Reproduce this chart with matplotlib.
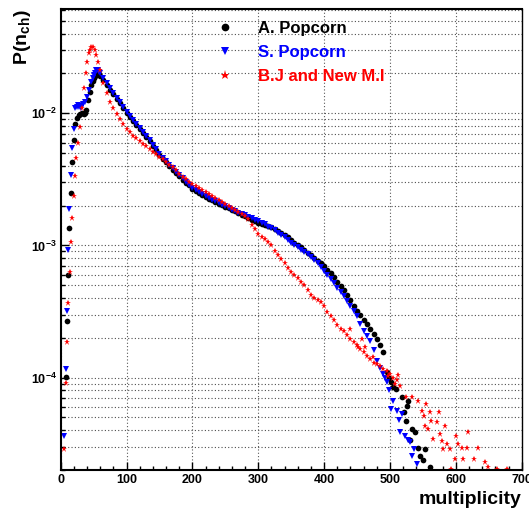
import matplotlib
matplotlib.use('Agg')
import matplotlib.pyplot as plt
from matplotlib.ticker import MultipleLocator, LogLocator, NullFormatter

plt.rcParams['font.family'] = ['Liberation Sans', 'DejaVu Sans']
plt.rcParams['font.weight'] = 'bold'
plt.rcParams['axes.labelweight'] = 'bold'
plt.rcParams['mathtext.fontset'] = 'custom'
plt.rcParams['mathtext.rm'] = 'Liberation Sans:bold'
plt.rcParams['mathtext.bf'] = 'Liberation Sans:bold'
plt.rcParams['mathtext.it'] = 'Liberation Sans:bold'

# bin centres of the smooth part (multiplicity)
mid_x = list(range(60, 495, 5))
red_mid_x = list(range(60, 520, 5))

# A. Popcorn (black)
a_left_x = [7.6, 9.4, 11.1, 12.9, 15.2, 17.8, 19.8, 22.3, 25, 27.4, 30, 32.4, 35.4, 37, 39,
            41.5, 44, 46.7, 48.5, 50.6, 52.5, 54.3, 56.2, 58]
a_left_y = [1.01e-4, 2.67e-4, 5.98e-4, 1.35e-3, 2.51e-3, 4.27e-3, 6.32e-3, 8.26e-3, 9.2e-3,
            9.66e-3, 9.9e-3, 1.005e-2, 9.83e-3, 1.0e-2, 1.05e-2, 1.25e-2, 1.45e-2, 1.63e-2,
            1.75e-2, 1.84e-2, 1.91e-2, 1.97e-2, 2.03e-2, 1.99e-2]
a_mid_y = [1.92e-2, 1.77e-2, 1.63e-2, 1.51e-2, 1.39e-2, 1.285e-2, 1.19e-2, 1.09e-2, 1.01e-2,
           9.31e-3, 8.71e-3, 8.13e-3, 7.59e-3, 7.06e-3, 6.59e-3, 6.17e-3, 5.69e-3, 5.25e-3,
           4.84e-3, 4.54e-3, 4.27e-3, 4.00e-3, 3.74e-3, 3.51e-3, 3.33e-3, 3.15e-3, 2.99e-3,
           2.84e-3, 2.69e-3, 2.59e-3, 2.51e-3, 2.42e-3, 2.33e-3, 2.25e-3, 2.19e-3, 2.13e-3,
           2.07e-3, 2.01e-3, 1.96e-3, 1.91e-3, 1.86e-3, 1.81e-3, 1.77e-3, 1.71e-3, 1.67e-3,
           1.62e-3, 1.57e-3, 1.53e-3, 1.49e-3, 1.46e-3, 1.43e-3, 1.41e-3, 1.37e-3, 1.32e-3,
           1.28e-3, 1.24e-3, 1.19e-3, 1.15e-3, 1.09e-3, 1.04e-3, 1.00e-3, 9.66e-4, 9.27e-4,
           8.83e-4, 8.41e-4, 8.02e-4, 7.66e-4, 7.30e-4, 6.93e-4, 6.56e-4, 6.19e-4, 5.81e-4,
           5.33e-4, 4.91e-4, 4.57e-4, 4.24e-4, 3.85e-4, 3.50e-4, 3.19e-4, 2.96e-4, 2.74e-4,
           2.54e-4, 2.32e-4, 2.13e-4, 1.97e-4, 1.77e-4, 1.56e-4]
a_tail_x = [495, 498, 501, 505, 509, 519, 522, 524, 526, 528, 531, 533, 538, 543, 546, 550,
            553, 561]
a_tail_y = [1.10e-4, 1.00e-4, 9.2e-5, 8.5e-5, 8.2e-5, 7.1e-5, 5.5e-5, 4.7e-5, 6.1e-5, 6.7e-5,
            3.4e-5, 4.1e-5, 3.85e-5, 2.96e-5, 2.56e-5, 2.39e-5, 2.88e-5, 2.09e-5]

# S. Popcorn (blue)
s_left_x = [5.6, 7.6, 9.6, 11.4, 13.2, 15.2, 17.5, 19.8, 22.3, 24.3, 26.3, 28.3, 30.4, 32.3,
            34.2, 37.5, 40, 43, 46.7, 48.6, 50.6, 52.5, 54.3, 56.2, 58]
s_left_y = [3.59e-5, 1.16e-4, 3.20e-4, 9.25e-4, 1.89e-3, 3.42e-3, 5.43e-3, 7.57e-3, 1.10e-2,
            1.12e-2, 1.15e-2, 1.12e-2, 1.09e-2, 1.13e-2, 1.17e-2, 1.22e-2, 1.33e-2, 1.49e-2,
            1.73e-2, 1.84e-2, 1.94e-2, 2.03e-2, 2.12e-2, 2.12e-2, 2.06e-2]
s_mid_y = [2.02e-2, 1.85e-2, 1.69e-2, 1.55e-2, 1.43e-2, 1.31e-2, 1.21e-2, 1.12e-2, 1.03e-2,
           9.49e-3, 8.85e-3, 8.24e-3, 7.69e-3, 7.18e-3, 6.70e-3, 6.27e-3, 5.79e-3, 5.35e-3,
           4.93e-3, 4.62e-3, 4.34e-3, 4.06e-3, 3.82e-3, 3.60e-3, 3.39e-3, 3.21e-3, 3.03e-3,
           2.86e-3, 2.71e-3, 2.62e-3, 2.54e-3, 2.45e-3, 2.37e-3, 2.29e-3, 2.22e-3, 2.15e-3,
           2.09e-3, 2.03e-3, 1.97e-3, 1.91e-3, 1.86e-3, 1.82e-3, 1.77e-3, 1.73e-3, 1.69e-3,
           1.65e-3, 1.61e-3, 1.57e-3, 1.52e-3, 1.48e-3, 1.44e-3, 1.39e-3, 1.35e-3, 1.30e-3,
           1.25e-3, 1.20e-3, 1.15e-3, 1.09e-3, 1.04e-3, 1.00e-3, 9.66e-4, 9.31e-4, 8.95e-4,
           8.61e-4, 8.24e-4, 7.78e-4, 7.35e-4, 6.90e-4, 6.46e-4, 6.00e-4, 5.57e-4, 5.18e-4,
           4.80e-4, 4.45e-4, 4.11e-4, 3.77e-4, 3.46e-4, 3.18e-4, 2.90e-4, 2.55e-4, 2.25e-4,
           2.07e-4, 1.88e-4, 1.62e-4, 1.34e-4, 1.19e-4, 1.06e-4]
s_tail_x = [492, 495, 498, 502, 505, 510, 513, 515, 518, 523, 527, 530, 534, 536, 541]
s_tail_y = [1.0e-4, 9.2e-5, 8.0e-5, 5.8e-5, 6.7e-5, 5.6e-5, 4.8e-5, 3.85e-5, 5.3e-5, 3.64e-5,
            3.4e-5, 3.24e-5, 2.56e-5, 2.88e-5, 2.22e-5]

# B.J and New M.I (red)
b_left_x = [5.6, 7.6, 9.9, 11.4, 13.7, 15.7, 17.8, 19.8, 22.3, 23.9, 26.3, 28.9, 31.9, 35, 38,
            40, 43, 44.8, 46.7, 49.1, 51.7, 54.3, 56.7]
b_left_y = [2.87e-5, 9.08e-5, 1.87e-4, 3.68e-4, 6.30e-4, 1.06e-3, 1.62e-3, 2.35e-3, 3.33e-3,
            4.58e-3, 5.96e-3, 7.87e-3, 1.09e-2, 1.54e-2, 2.00e-2, 2.45e-2, 2.83e-2, 3.00e-2,
            3.15e-2, 3.18e-2, 3.00e-2, 2.75e-2, 2.45e-2]
b_mid_y = [2.14e-2, 1.70e-2, 1.41e-2, 1.22e-2, 1.10e-2, 9.89e-3, 9.02e-3, 8.22e-3, 7.59e-3,
           7.16e-3, 6.76e-3, 6.46e-3, 6.17e-3, 5.89e-3, 5.62e-3, 5.37e-3, 5.13e-3, 4.90e-3,
           4.68e-3, 4.47e-3, 4.27e-3, 4.07e-3, 3.89e-3, 3.72e-3, 3.47e-3, 3.31e-3, 3.16e-3,
           3.02e-3, 2.92e-3, 2.82e-3, 2.72e-3, 2.63e-3, 2.54e-3, 2.45e-3, 2.37e-3, 2.29e-3,
           2.21e-3, 2.14e-3, 2.07e-3, 2.00e-3, 1.93e-3, 1.86e-3, 1.78e-3, 1.72e-3, 1.66e-3,
           1.58e-3, 1.43e-3, 1.32e-3, 1.23e-3, 1.16e-3, 1.11e-3, 1.06e-3, 1.00e-3, 9.12e-4,
           8.51e-4, 7.94e-4, 7.33e-4, 6.76e-4, 6.31e-4, 5.96e-4, 5.62e-4, 5.31e-4, 5.01e-4,
           4.57e-4, 4.22e-4, 3.98e-4, 3.85e-4, 3.72e-4, 3.51e-4, 3.16e-4, 2.95e-4, 2.72e-4,
           2.51e-4, 2.32e-4, 2.26e-4, 2.11e-4, 1.95e-4, 1.86e-4, 1.78e-4, 1.64e-4, 1.55e-4,
           1.46e-4, 1.38e-4, 1.29e-4, 1.26e-4, 1.22e-4, 1.17e-4, 1.12e-4, 1.07e-4, 1.00e-4,
           9.55e-5, 8.71e-5]
b_tail_x = [439, 452, 457, 462, 474, 497, 507, 512, 525, 533, 543, 548, 551, 553, 555, 558,
            561, 563, 565, 571, 574, 576, 579, 580, 584, 586, 591, 593, 599, 601, 604, 609,
            611, 617, 619, 627, 634, 644, 649, 662, 677]
b_tail_y = [2.34e-4, 1.70e-4, 1.96e-4, 1.70e-4, 1.43e-4, 1.02e-4, 9.0e-5, 1.05e-4, 7.1e-5,
            7.1e-5, 6.7e-5, 5.62e-5, 5.15e-5, 4.32e-5, 6.32e-5, 4.08e-5, 5.46e-5, 4.72e-5,
            3.44e-5, 4.58e-5, 5.46e-5, 3.74e-5, 3.33e-5, 2.88e-5, 4.32e-5, 3.15e-5, 2.88e-5,
            2.03e-5, 2.42e-5, 3.64e-5, 3.15e-5, 2.96e-5, 2.42e-5, 2.96e-5, 3.85e-5, 2.42e-5,
            2.96e-5, 2.28e-5, 2.09e-5, 2.03e-5, 2.03e-5]

a_x = a_left_x + mid_x + a_tail_x
a_y = a_left_y + a_mid_y + a_tail_y
s_x = s_left_x + mid_x + s_tail_x
s_y = s_left_y + s_mid_y + s_tail_y
b_x = b_left_x + red_mid_x + b_tail_x
b_y = b_left_y + b_mid_y + b_tail_y

x_ticks = [0, 100, 200, 300, 400, 500, 600, 700]
y_ticks = [1e-4, 1e-3, 1e-2]
y_ticklabels = [r'$\mathbf{10^{-4}}$', r'$\mathbf{10^{-3}}$', r'$\mathbf{10^{-2}}$']

fig = plt.figure(figsize=(5.29, 5.13), dpi=100)
ax = fig.add_axes([0.1147, 0.0838, 0.8715, 0.8986])

ax.plot(a_x, a_y, 'o', color='black', ms=4.1, mew=0, label='A. Popcorn')
ax.plot(s_x, s_y, 'v', color='blue', ms=4.7, mew=0, label='S. Popcorn')
ax.plot(b_x, b_y, '*', color='red', ms=5.0, mew=0, label='B.J and New M.I')

ax.set_yscale('log')
ax.set_xlim(0, 700)
ax.set_ylim(2e-5, 0.0614)

ax.set_xticks(x_ticks)
ax.xaxis.set_minor_locator(MultipleLocator(20))
ax.set_yticks(y_ticks, labels=y_ticklabels)
ax.yaxis.set_minor_locator(LogLocator(base=10, subs=[2, 3, 4, 5, 6, 7, 8, 9]))
ax.yaxis.set_minor_formatter(NullFormatter())

ax.tick_params(which='both', direction='in', top=False, right=False, width=1)
ax.tick_params(which='major', length=6, labelsize=9, pad=3)
ax.tick_params(which='minor', length=3)

dots = (0, (1, 2))
ax.grid(True, which='major', axis='x', ls=dots, color='0.35', lw=0.8)
ax.grid(True, which='both', axis='y', ls=dots, color='0.3', lw=0.8)

for side in ['left', 'bottom', 'top']:
    ax.spines[side].set_linewidth(1.5)
ax.spines['right'].set_linewidth(1.0)

ax.set_xlabel('multiplicity', fontsize=14, fontweight='bold', loc='right')
ax.xaxis.set_label_coords(1.0, -0.046)
ax.set_ylabel(r'$\mathbf{P(n_{ch})}$', fontsize=14, loc='top')
ax.yaxis.set_label_coords(-0.06, 1.0)

ax.legend(loc='upper left', bbox_to_anchor=(0.338, 0.975), frameon=False, fontsize=12,
          handlelength=1.0, handletextpad=1.5, labelspacing=0.55, borderpad=0,
          borderaxespad=0, markerscale=1.35, labelcolor='markerfacecolor')

fig.savefig('out.png', dpi=100)
